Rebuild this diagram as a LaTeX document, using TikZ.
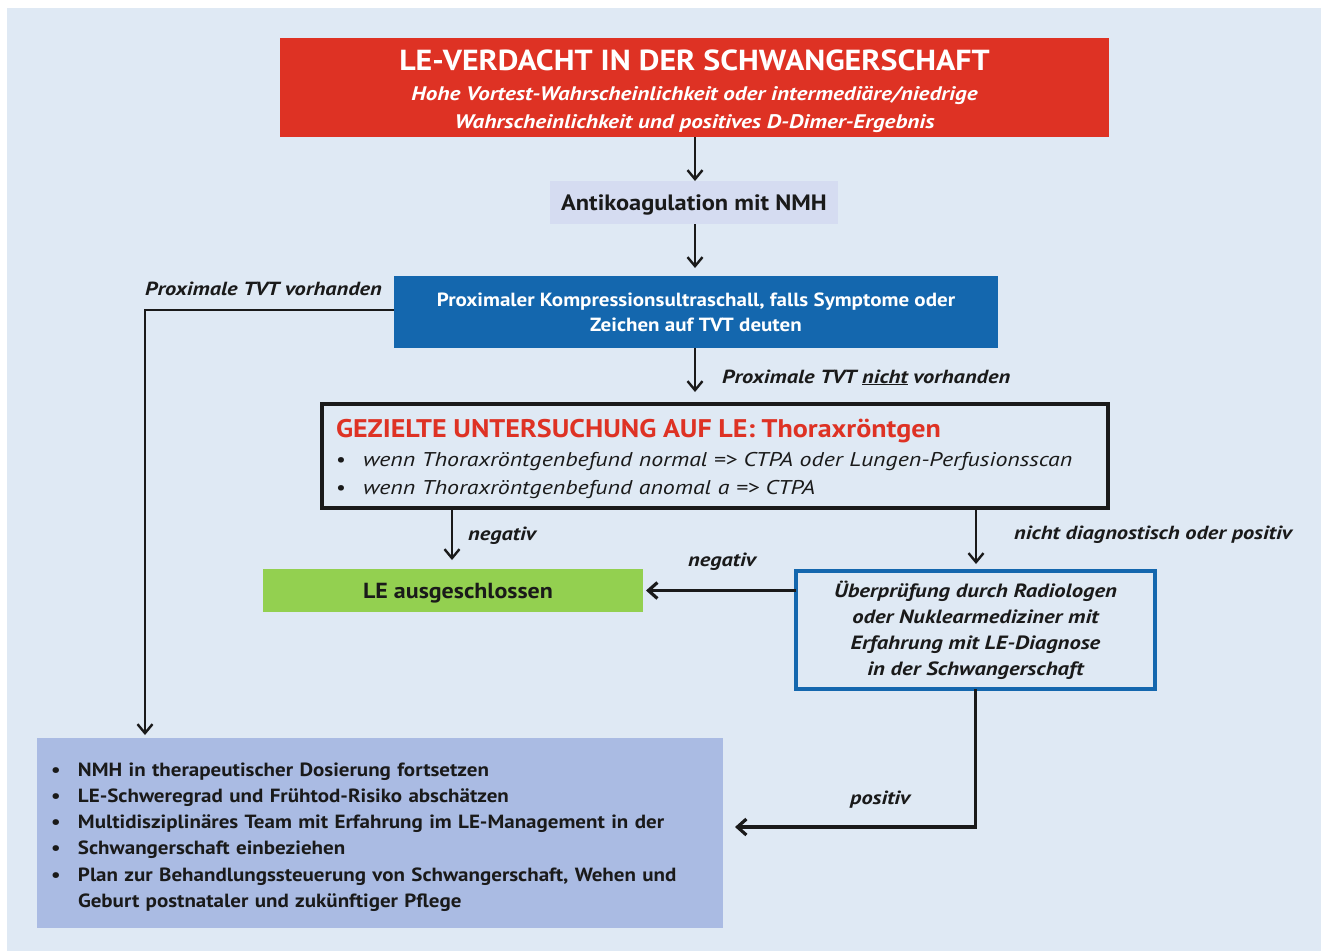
\documentclass[tikz,border=0pt]{standalone}
\usepackage{fontspec}
\setmainfont{PT Sans}[FakeStretch=1.1,
  BoldFeatures={FakeStretch=1.1},
  ItalicFeatures={FakeStretch=1.2},
  BoldItalicFeatures={FakeStretch=1.18}]
\usetikzlibrary{arrows.meta,calc}
\definecolor{bgc}{HTML}{DFE9F4}
\definecolor{redc}{HTML}{DE3224}
\definecolor{bluec}{HTML}{1467AE}
\definecolor{akc}{HTML}{D5DCF1}
\definecolor{greenc}{HTML}{93D050}
\definecolor{botc}{HTML}{AABBE3}
\definecolor{txt}{HTML}{1A1A1A}
\newcommand\uplift[2][8pt]{\raisebox{0pt}[\dimexpr\height+#1\relax]{#2}}
\newcommand\bul{\makebox[24pt][l]{\hspace{-3pt}•}}
\tikzset{
  box/.style={inner sep=0pt, outer sep=0pt, rectangle, text=txt},
  conn/.style={draw=txt, line width=2.4pt, -{Straight Barb[length=9pt,width=15pt,line width=2.4pt]}},
  thick conn/.style={draw=txt, line width=3.2pt, -{Straight Barb[length=9pt,width=16pt,line width=3.2pt]}},
  lbl/.style={inner sep=0pt, text=txt, font=\fontsize{19}{22}\selectfont\bfseries\itshape},
}
\begin{document}
\begin{tikzpicture}[x=1pt,y=-1pt]
\useasboundingbox (0,0) rectangle (1321,951);
\fill[bgc] (7,8) rectangle (1321,951);

% top red box
\node[box, fill=redc, minimum width=829, minimum height=99, text=white, align=center,
      font=\fontsize{19.6}{28}\selectfont\bfseries\itshape] (top) at (694.5,87.5)
 {\uplift{\fontsize{29}{28}\selectfont\upshape LE-VERDACHT IN DER SCHWANGERSCHAFT}\\[2pt]
  Hohe Vortest-Wahrscheinlichkeit oder intermediäre/niedrige\\
  Wahrscheinlichkeit und positives D-Dimer-Ergebnis};

% Antikoagulation
\node[box, fill=akc, minimum width=288, minimum height=43, text height=15.5pt, text depth=0pt,
      font=\fontsize{22.2}{24}\selectfont\bfseries] (ak) at (694,202.5) {Antikoagulation mit NMH};

% blue box
\node[box, fill=bluec, minimum width=604, minimum height=72, text=white, align=center,
      font=\fontsize{19.1}{25}\selectfont\bfseries] (tvt) at (696,312)
 {Proximaler Kompressionsultraschall, falls Symptome oder\\Zeichen auf TVT deuten};

% black check box
\node[box, draw=txt, line width=4pt, minimum width=786, minimum height=104, text width=758, align=left,
      font=\fontsize{19.9}{28}\selectfont\itshape] (chk) at (715,456)
 {\uplift[6pt]{\fontsize{25.5}{28}\selectfont\bfseries\upshape\color{redc}GEZIELTE UNTERSUCHUNG AUF LE: Thoraxröntgen}\\[1pt]
  \makebox[27pt][l]{\upshape•}wenn Thoraxröntgenbefund normal => CTPA oder Lungen-Perfusionsscan\\
  \makebox[27pt][l]{\upshape•}wenn Thoraxröntgenbefund anomal a => CTPA};

% green
\node[box, fill=greenc, minimum width=380, minimum height=43, text height=15.2pt, text depth=0pt,
      font=\fontsize{21.8}{24}\selectfont\bfseries] (ex) at (453,590.5) {\hspace{10pt}LE ausgeschlossen};

% review box
\node[box, draw=bluec, line width=4pt, minimum width=359, minimum height=118, align=center,
      font=\fontsize{19.2}{26}\selectfont\bfseries\itshape] (rev) at (975.5,630)
 {Überprüfung durch Radiologen\\oder Nuklearmediziner mit\\Erfahrung mit LE-Diagnose\\in der Schwangerschaft};

% bottom box
\node[box, fill=botc, minimum width=686, minimum height=190, text width=652, align=left,
      font=\fontsize{19.1}{26.2}\selectfont\bfseries] (bot) at (380,833)
 {\uplift{\bul NMH in therapeutischer Dosierung fortsetzen}\\
  \bul LE-Schweregrad und Frühtod-Risiko abschätzen\\
  \bul Multidisziplinäres Team mit Erfahrung im LE-Management in der\\
  \bul Schwangerschaft einbeziehen\\
  \bul Plan zur Behandlungssteuerung von Schwangerschaft, Wehen und\\
  \hspace*{24pt}Geburt postnataler und zukünftiger Pflege};

% labels
\node[lbl, anchor=mid west] (l1) at (145,293) {Proximale TVT vorhanden};
\node[lbl, anchor=mid west] (l2) at (722,380.5) {Proximale TVT \underline{nicht} vorhanden};
\node[lbl, anchor=mid west] (l3) at (468,538) {negativ};
\node[lbl, anchor=mid west] (l4) at (1014,536.5) {nicht diagnostisch oder positiv};
\node[lbl, anchor=mid west] (l5) at (688,564) {negativ};
\node[lbl, anchor=mid west] (l6) at (850,802) {positiv};

% connectors
\coordinate (cl) at (145,0);
\coordinate (cn) at (452,0);
\coordinate (cd) at (976,0);
\coordinate (cp) at (0,827);
\coordinate (cv) at (695,0);
\draw[conn] (cv |- top.south) -- (cv |- ak.north);
\draw[conn] (cv |- ak.south) -- ([yshift=8pt]cv |- tvt.north);
\draw[conn] ([yshift=2pt]tvt.west) -| ([yshift=3pt]cl |- bot.north);
\draw[conn] (cv |- tvt.south) -- ([yshift=12pt]cv |- chk.north);
\draw[conn] (cn |- chk.south) -- ([yshift=9pt]cn |- ex.north);
\draw[conn] (cd |- chk.south) -- ([yshift=7pt]cd |- rev.north);
\draw[thick conn] (rev.west |- ex.east) -- ([xshift=3pt]ex.east);
\draw[thick conn] (rev.south) |- ([xshift=12pt]bot.east |- cp);
\end{tikzpicture}
\end{document}
